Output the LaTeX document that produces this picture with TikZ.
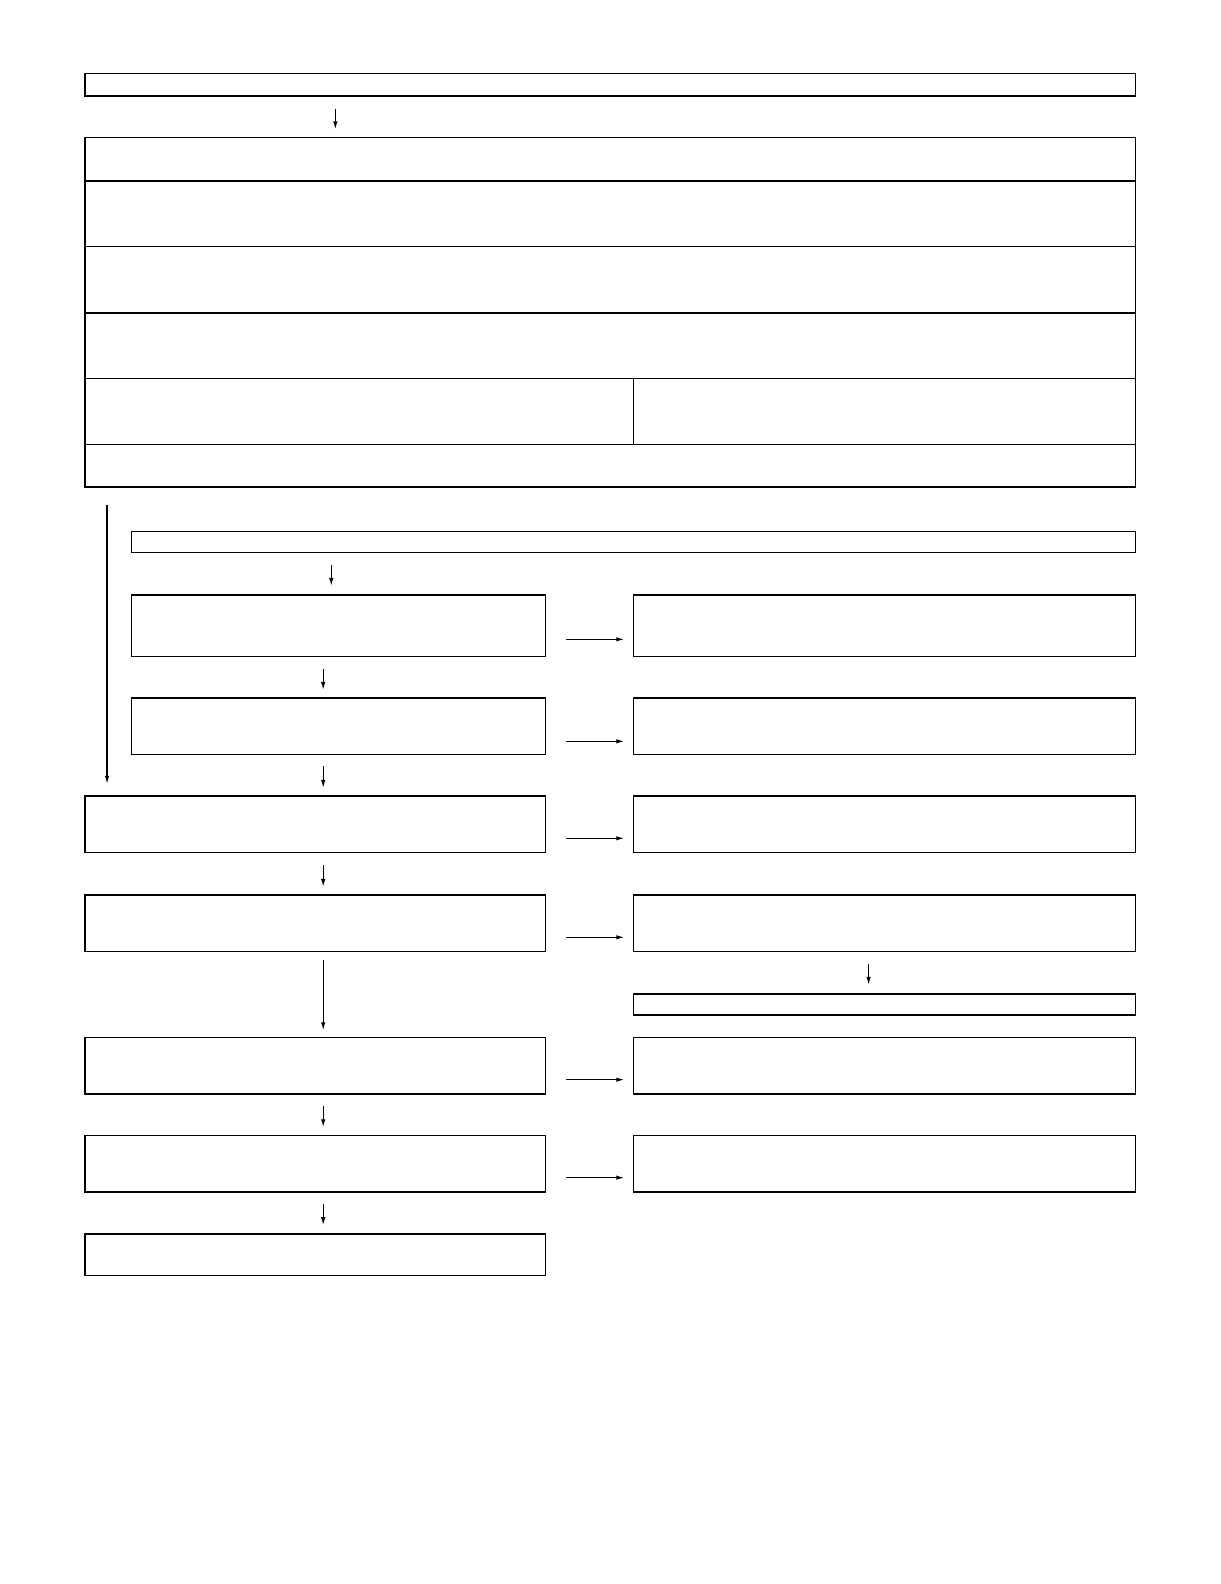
\documentclass[tikz,border=0pt]{standalone}
\usetikzlibrary{arrows.meta}
\def\pxu{0.0101cm}
\def\flowbox(#1)(#2,#3)(#4,#5){\node[flow, minimum width={(#4-#2)*\pxu}, minimum height={(#5-#3)*\pxu}] (#1) at ({(#2+#4)/2},{(#3+#5)/2}) {};}
\begin{document}
\begin{tikzpicture}[x=\pxu, y=-\pxu,
		flow/.style={draw, line width=0.42pt, inner sep=0pt, outer sep=0pt},
		arr/.style={-{Latex[length=0.08cm,width=0.045cm]}, line width=0.35pt}]
		%%%%% START %%%%%
		\useasboundingbox (0, 0) rectangle (1207.92, 1568.32);
		
		\flowbox(head)(84,73)(1124,95)
		
		\flowbox(tabA)(84,136)(1124,179)
		\flowbox(tabB)(84,179)(1124,244)
		\flowbox(tabC)(84,244)(1124,310)
		\flowbox(tabD)(84,310)(1124,375)
		\flowbox(tabEl)(84,375)(627,440)
		\flowbox(tabEr)(627,375)(1124,440)
		\flowbox(tabF)(84,440)(1124,482)
		
		\flowbox(sub)(130,526)(1124,547)
		
		\flowbox(chkA)(130,589)(540,650)
		\flowbox(resA)(627,589)(1124,650)
		\flowbox(chkB)(130,691)(540,747)
		\flowbox(resB)(627,691)(1124,747)
		\flowbox(chkC)(84,788)(540,844)
		\flowbox(resC)(627,788)(1124,844)
		\flowbox(chkD)(84,886)(540,942)
		\flowbox(resD)(627,886)(1124,942)
		\flowbox(note)(627,984)(1124,1005)
		\flowbox(chkE)(84,1027)(540,1083)
		\flowbox(resE)(627,1027)(1124,1083)
		\flowbox(chkF)(84,1124)(540,1180)
		\flowbox(resF)(627,1124)(1124,1180)
		\flowbox(last)(84,1222)(540,1263)
		
		% down arrows
		\draw[arr, shorten <=0.13cm, shorten >=0.08cm] (head.south -| 332,0) -- (tabA.north -| 332,0);
		\draw[arr, shorten <=0.18cm, shorten >=0.12cm] (tabF.south -| 106,0) -- (chkC.north -| 106,0);
		\draw[arr, shorten <=0.13cm, shorten >=0.09cm] (sub.south -| 328,0) -- (chkA.north -| 328,0);
		\draw[arr, shorten <=0.12cm, shorten >=0.08cm] (chkA.south -| 320,0) -- (chkB.north -| 320,0);
		\draw[arr, shorten <=0.12cm, shorten >=0.08cm] (chkB.south -| 320,0) -- (chkC.north -| 320,0);
		\draw[arr, shorten <=0.13cm, shorten >=0.08cm] (chkC.south -| 320,0) -- (chkD.north -| 320,0);
		\draw[arr, shorten <=0.09cm, shorten >=0.07cm] (chkD.south -| 320,0) -- (chkE.north -| 320,0);
		\draw[arr, shorten <=0.13cm, shorten >=0.09cm] (resD.south -| 860,0) -- (note.north -| 860,0);
		\draw[arr, shorten <=0.12cm, shorten >=0.08cm] (chkE.south -| 320,0) -- (chkF.north -| 320,0);
		\draw[arr, shorten <=0.12cm, shorten >=0.09cm] (chkF.south -| 320,0) -- (last.north -| 320,0);
		
		% side arrows
		\draw[arr, shorten <=0.21cm, shorten >=0.09cm] (chkA.east |- 0,633) -- (resA.west |- 0,633);
		\draw[arr, shorten <=0.21cm, shorten >=0.09cm] (chkB.east |- 0,734) -- (resB.west |- 0,734);
		\draw[arr, shorten <=0.21cm, shorten >=0.09cm] (chkC.east |- 0,830) -- (resC.west |- 0,830);
		\draw[arr, shorten <=0.21cm, shorten >=0.09cm] (chkD.east |- 0,928) -- (resD.west |- 0,928);
		\draw[arr, shorten <=0.21cm, shorten >=0.09cm] (chkE.east |- 0,1069) -- (resE.west |- 0,1069);
		\draw[arr, shorten <=0.21cm, shorten >=0.09cm] (chkF.east |- 0,1166) -- (resF.west |- 0,1166);
		
		%%%%% END %%%%%
	\end{tikzpicture}
\end{document}
